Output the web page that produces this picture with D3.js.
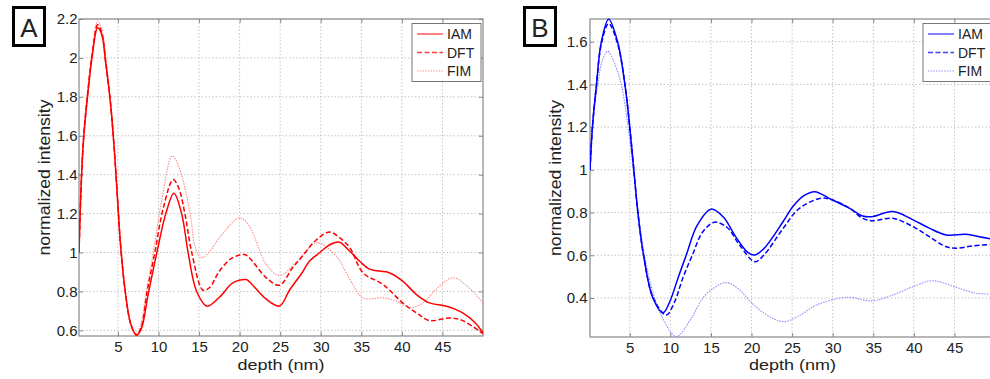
<!DOCTYPE html>
<html>
<head>
<meta charset="utf-8">
<script src="https://cdn.jsdelivr.net/npm/d3@7"></script>
<style>
  body { margin: 0; background: #fff; }
  text { font-family: "Liberation Sans", Arial, sans-serif; fill: #222; }
</style>
</head>
<body>
<div class="chart"></div>
<script>
// depth (nm) / normalized intensity pairs
var seriesNames = ["IAM", "DFT", "FIM"];
var xTicks = [5, 10, 15, 20, 25, 30, 35, 40, 45];
var yTicksA = [0.6, 0.8, 1, 1.2, 1.4, 1.6, 1.8, 2, 2.2];
var yTicksB = [0.4, 0.6, 0.8, 1, 1.2, 1.4, 1.6];

// Panel A
var iamA = [[0.2,1.0],[0.5,1.38],[0.8,1.6],[1.3,1.82],[1.8,2.0],[2.5,2.155],[3.0,2.12],[3.5,1.97],[4.1,1.76],[4.6,1.5],[5.0,1.24],[5.3,1.05],[5.9,0.8],[6.6,0.63],[7.3,0.575],[7.9,0.61],[8.7,0.78],[9.8,1.0],[10.9,1.2],[11.9,1.305],[12.85,1.2],[13.65,1.0],[14.7,0.8],[16.0,0.724],[17.5,0.77],[19.2,0.845],[20.8,0.861],[21.2,0.85],[23.3,0.76],[24.9,0.725],[26.2,0.81],[27.7,0.896],[28.6,0.955],[29.9,1.0],[31.1,1.04],[32.3,1.053],[33.5,1.01],[34.8,0.955],[36,0.915],[38.5,0.895],[40.1,0.853],[41.8,0.784],[43.4,0.741],[45.5,0.724],[47.5,0.69],[49,0.64],[50,0.587]];
var dftA = [[0.2,1.0],[0.5,1.38],[0.8,1.61],[1.3,1.83],[1.8,2.01],[2.5,2.17],[3.0,2.13],[3.5,1.98],[4.1,1.76],[4.6,1.5],[5.0,1.24],[5.3,1.05],[5.9,0.8],[6.6,0.63],[7.3,0.575],[7.9,0.62],[8.6,0.8],[9.55,1.0],[10.6,1.23],[11.8,1.375],[12.5,1.33],[13.25,1.2],[14.1,1.0],[15.5,0.806],[16.3,0.82],[17.5,0.904],[19.0,0.97],[20.6,0.99],[21.2,0.973],[23.3,0.87],[24.9,0.832],[26.5,0.92],[27.7,0.98],[29.5,1.067],[31.1,1.105],[32.2,1.08],[33.6,1.024],[35.2,0.896],[37.7,0.835],[40.1,0.741],[41.8,0.69],[43.4,0.65],[45.9,0.664],[47.5,0.65],[50,0.583]];
var fimA = [[0.2,1.0],[0.5,1.4],[0.8,1.63],[1.3,1.85],[1.8,2.03],[2.5,2.19],[3.0,2.15],[3.5,2.0],[4.1,1.77],[4.6,1.5],[5.0,1.24],[5.3,1.05],[5.9,0.8],[6.6,0.63],[7.2,0.58],[7.8,0.63],[8.5,0.8],[9.35,1.0],[10.4,1.27],[11.7,1.497],[12.6,1.43],[13.9,1.2],[14.5,1.03],[15.2,0.973],[16.0,0.99],[17.5,1.075],[20.0,1.178],[21.2,1.135],[23.3,0.938],[24.9,0.882],[27.0,0.95],[29.5,1.05],[31.9,0.981],[33.6,0.861],[35.2,0.767],[37.7,0.767],[39.3,0.75],[41,0.716],[42.6,0.741],[44.2,0.81],[46.3,0.87],[48.3,0.818],[50,0.741]];

// Panel B
var iamB = [[0.1,1.0],[0.4,1.2],[0.9,1.4],[1.5,1.6],[2.4,1.705],[3.5,1.6],[4.4,1.4],[5.0,1.2],[5.5,1.0],[6.0,0.8],[6.7,0.6],[7.85,0.4],[9.1,0.331],[9.9,0.38],[11.0,0.5],[11.95,0.6],[13.3,0.74],[15.0,0.816],[16.5,0.78],[18.0,0.69],[19.5,0.615],[20.4,0.601],[21.5,0.63],[23.9,0.758],[25.1,0.828],[26.5,0.88],[27.8,0.898],[29.8,0.862],[32.1,0.82],[33.7,0.784],[34.9,0.781],[37.4,0.805],[39.9,0.766],[41.9,0.727],[44,0.695],[46.4,0.698],[48.1,0.687],[50,0.672]];
var dftB = [[0.1,1.0],[0.4,1.2],[0.9,1.4],[1.5,1.59],[2.4,1.685],[3.5,1.59],[4.4,1.4],[5.0,1.2],[5.5,1.0],[6.0,0.8],[6.7,0.6],[7.9,0.4],[9.5,0.32],[10.5,0.38],[11.6,0.5],[12.7,0.6],[14.0,0.71],[15.45,0.755],[17.0,0.73],[18.5,0.65],[20.4,0.57],[21.5,0.6],[23.9,0.726],[25.9,0.82],[28.6,0.867],[29.9,0.86],[32.1,0.82],[33.7,0.773],[34.9,0.762],[37.4,0.773],[39.9,0.734],[41.9,0.687],[44,0.64],[45.2,0.633],[47.3,0.644],[50,0.652]];
var fimB = [[0.1,1.0],[0.5,1.25],[1.07,1.4],[1.6,1.51],[2.3,1.555],[3.1,1.5],[3.95,1.4],[4.8,1.2],[5.5,0.98],[6.1,0.78],[6.8,0.6],[7.9,0.42],[9.0,0.31],[10.7,0.22],[12.5,0.3],[14,0.4],[15.5,0.45],[16.9,0.472],[18.5,0.44],[19.7,0.39],[21.5,0.33],[23.9,0.289],[26,0.32],[28,0.367],[31.7,0.403],[34.9,0.387],[37.4,0.414],[39.9,0.453],[42.3,0.481],[45.2,0.45],[47.7,0.422],[50,0.419]];

var svg = d3.select(".chart")
            .append("svg")
            .attr("width", 990)
            .attr("height", 379);

var panels = [
  { id: "A", box: [79, 19, 483, 336], xDomain: [0.2, 50], yDomain: [0.571, 2.2], yTicks: yTicksA,
    color: "#ff0000", light: "#ff8a8a", series: [iamA, dftA, fimA],
    labelBox: [12, 6], legend: [412, 23.5, 69], yPad: 1.5 },
  { id: "B", box: [590, 19, 995, 337], xDomain: [0.1, 50], yDomain: [0.2174, 1.7063], yTicks: yTicksB,
    color: "#0000ff", light: "#8a8aff", series: [iamB, dftB, fimB],
    labelBox: [523, 6], legend: [923, 23.5, 70], yPad: 2.5 }
];

panels.forEach(drawPanel);

function drawPanel(p) {
  var left = p.box[0], top = p.box[1], right = p.box[2], bottom = p.box[3];
  var x = d3.scaleLinear().domain(p.xDomain).range([left, right]);
  var y = d3.scaleLinear().domain(p.yDomain).range([bottom, top]);
  var g = svg.append("g");

  // dotted grid
  g.append("g").selectAll("line").data(xTicks).enter().append("line")
   .attr("x1", d => x(d)).attr("x2", d => x(d)).attr("y1", top).attr("y2", bottom)
   .attr("stroke", "#c4c4c4").attr("stroke-dasharray", "1.5,2");
  g.append("g").selectAll("line").data(p.yTicks).enter().append("line")
   .attr("y1", d => y(d)).attr("y2", d => y(d)).attr("x1", left).attr("x2", right)
   .attr("stroke", "#c4c4c4").attr("stroke-dasharray", "1.5,2");

  // axes (ticks inside, box style)
  var xb = g.append("g").attr("transform", `translate(0,${bottom})`)
            .call(d3.axisBottom(x).tickValues(xTicks).tickSizeInner(-4).tickSizeOuter(0).tickPadding(5.5));
  var xt = g.append("g").attr("transform", `translate(0,${top})`)
            .call(d3.axisTop(x).tickValues(xTicks).tickSizeInner(-4).tickSizeOuter(0).tickFormat(""));
  var yl = g.append("g").attr("transform", `translate(${left},0)`)
            .call(d3.axisLeft(y).tickValues(p.yTicks).tickSizeInner(-4).tickSizeOuter(0).tickPadding(p.yPad).tickFormat(d3.format("")));
  var yr = g.append("g").attr("transform", `translate(${right},0)`)
            .call(d3.axisRight(y).tickValues(p.yTicks).tickSizeInner(-4).tickSizeOuter(0).tickFormat(""));
  [xb, xt, yl, yr].forEach(function(a) {
    a.select(".domain").remove();
    a.selectAll("line").attr("stroke", "#888");
    a.selectAll("text").style("font-size", "15px").attr("fill", "#222")
     .style("font-family", '"Liberation Sans", Arial, sans-serif');
  });

  g.append("rect").attr("x", left).attr("y", top)
   .attr("width", right - left).attr("height", bottom - top)
   .attr("fill", "none").attr("stroke", "#888").attr("stroke-width", 1.2);

  // curves
  g.append("clipPath").attr("id", "clip" + p.id).append("rect")
   .attr("x", left).attr("y", top - 2).attr("width", right - left).attr("height", bottom - top + 4);
  var line = d3.line().x(d => x(d[0])).y(d => y(d[1])).curve(d3.curveCatmullRom.alpha(0.5));
  var styles = [
    { stroke: p.color, width: 1.5, dash: null },
    { stroke: p.color, width: 1.5, dash: "5,2.5" },
    { stroke: p.light, width: 1.1, dash: "1.5,1.2" }
  ];
  var lines = g.append("g").attr("clip-path", `url(#clip${p.id})`);
  p.series.slice().reverse().forEach(function(s, i) {
    var st = styles[2 - i];
    lines.append("path").datum(s).attr("d", line)
         .attr("fill", "none").attr("stroke", st.stroke).attr("stroke-width", st.width)
         .attr("stroke-dasharray", st.dash);
  });

  // axis titles
  g.append("text").attr("x", (left + right) / 2).attr("y", 370)
   .attr("text-anchor", "middle").style("font-size", "15.5px")
   .attr("textLength", 87).attr("lengthAdjust", "spacingAndGlyphs").text("depth (nm)");
  g.append("text").attr("transform", `translate(${left - 29},${(top + bottom) / 2}) rotate(-90)`)
   .attr("text-anchor", "middle").style("font-size", "16px")
   .attr("textLength", 156).attr("lengthAdjust", "spacingAndGlyphs").text("normalized intensity");

  // legend
  var lg = g.append("g");
  lg.append("rect").attr("x", p.legend[0]).attr("y", p.legend[1])
    .attr("width", p.legend[2]).attr("height", 58)
    .attr("fill", "#fff").attr("stroke", "#777").attr("stroke-width", 1);
  seriesNames.forEach(function(name, i) {
    var ly = p.legend[1] + 10.5 + i * 18.5;
    lg.append("line").attr("x1", p.legend[0] + 5).attr("x2", p.legend[0] + 31)
      .attr("y1", ly).attr("y2", ly)
      .attr("stroke", i === 2 ? p.light : p.color).attr("stroke-width", i === 2 ? 1.1 : 1.3)
      .attr("stroke-dasharray", styles[i].dash).attr("opacity", i === 2 ? 0.9 : 0.75);
    lg.append("text").attr("x", p.legend[0] + 35).attr("y", ly + 5)
      .style("font-size", "14px").text(name);
  });

  // panel letter
  g.append("rect").attr("x", p.labelBox[0] + 1.5).attr("y", p.labelBox[1] + 1.5)
   .attr("width", 31).attr("height", 38)
   .attr("fill", "#fff").attr("stroke", "#000").attr("stroke-width", 3);
  g.append("text").attr("x", p.labelBox[0] + 17).attr("y", p.labelBox[1] + 31)
   .attr("text-anchor", "middle").style("font-size", "26px").attr("fill", "#000").text(p.id);
}
</script>
</body>
</html>
